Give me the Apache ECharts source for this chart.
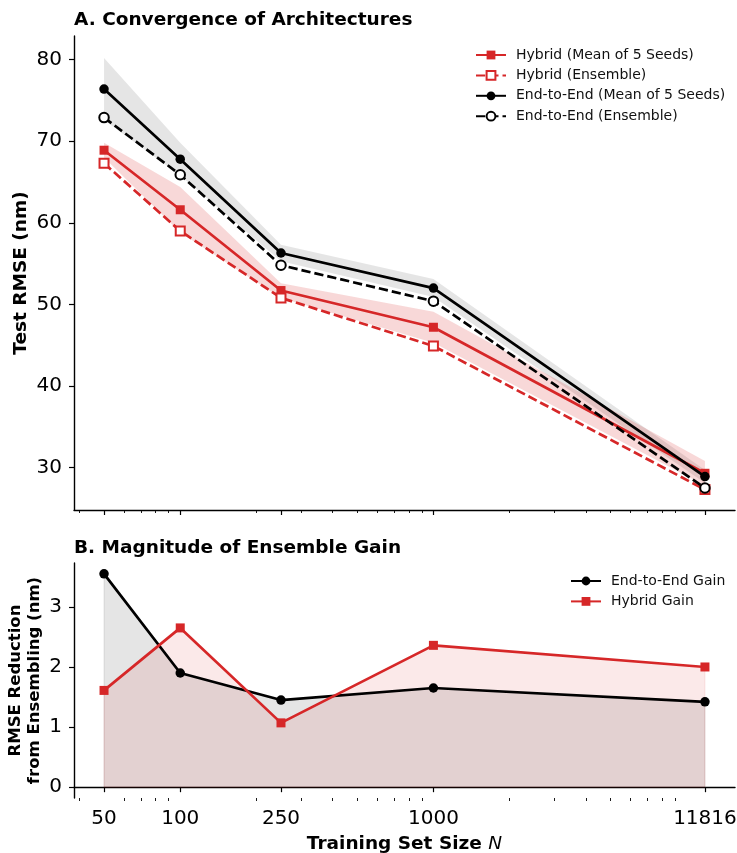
<!DOCTYPE html>
<html>
<head>
<meta charset="utf-8">
<script src="https://cdn.jsdelivr.net/npm/echarts@6/dist/echarts.min.js"></script>
<style>
  html, body { margin: 0; padding: 0; background: #fff; }
  #chart { width: 737px; height: 853px; }
</style>
</head>
<body>
<div id="chart"></div>
<script>
// Training set sizes (log-scaled x axis) and their tick labels
const trainSizes = [50, 100, 250, 1000, 11816];
const sizeTickLabels = ['50', '100', '250', '1000', '11816'];
const minorSizeTicks = [40, 60, 70, 80, 90, 200, 300, 400, 500, 600, 700, 800, 900,
  2000, 3000, 4000, 5000, 6000, 7000, 8000, 9000];

// Panel A: test RMSE (nm)
const hybridMean = [68.9, 61.6, 51.7, 47.2, 29.3];
const hybridStd = [0.9, 2.8, 0.9, 1.9, 1.5];
const hybridEnsemble = [67.3, 59.0, 50.8, 44.9, 27.3];
const e2eMean = [76.4, 67.8, 56.3, 52.0, 28.9];
const e2eStd = [3.8, 2.0, 1.0, 1.1, 0.8];
const e2eEnsemble = [72.9, 65.9, 54.8, 50.4, 27.5];
const rmseTicks = [30, 40, 50, 60, 70, 80];

// Panel B: RMSE reduction from ensembling (nm)
const e2eGain = [3.55, 1.90, 1.45, 1.65, 1.42];
const hybridGain = [1.61, 2.65, 1.07, 2.36, 2.00];
const gainTicks = [0, 1, 2, 3];

const RED = '#d62728';
const BLACK = '#000000';
const FONT = 'DejaVu Sans';
const DASH = [9.25, 4];

const pairs = (ys) => ys.map((y, i) => [trainSizes[i], y]);
const bandRows = (m, s) => m.map((v, i) => [trainSizes[i], v - s[i], v + s[i]]);
const fillRows = (ys) => ys.map((y, i) => [trainSizes[i], 0, y]);

function sizeLabel(v) {
  let best = 0;
  trainSizes.forEach((s, i) => {
    if (Math.abs(Math.log(s) - Math.log(v)) < Math.abs(Math.log(trainSizes[best]) - Math.log(v))) best = i;
  });
  return sizeTickLabels[best];
}

// Shaded region between a lower and an upper bound, drawn as one polygon
function bandRenderer(color, opacity, edgeWidth) {
  return function (params, api) {
    if (params.dataIndexInside !== 0) return null;
    const n = params.dataInsideLength;
    const top = [], bottom = [];
    for (let j = 0; j < n; j++) {
      const x = api.value(0, j);
      top.push(api.coord([x, api.value(2, j)]));
      bottom.push(api.coord([x, api.value(1, j)]));
    }
    return {
      type: 'polygon',
      shape: { points: top.concat(bottom.reverse()) },
      style: {
        fill: color, opacity: opacity,
        stroke: edgeWidth ? color : null, lineWidth: edgeWidth || 0
      },
      silent: true
    };
  };
}

const X_MIN = 38.05, X_MAX = 15530;

function majorX(gridIndex, withLabels, extra) {
  return Object.assign({
    type: 'log', gridIndex, min: X_MIN, max: X_MAX, position: 'bottom',
    axisLine: { show: true, lineStyle: { color: BLACK, width: 1.4 } },
    axisTick: { show: true, length: 5, lineStyle: { color: BLACK, width: 1.2 }, customValues: trainSizes },
    axisLabel: withLabels ? {
      show: true, customValues: trainSizes, formatter: sizeLabel,
      color: BLACK, fontFamily: FONT, fontSize: 20, margin: 11
    } : { show: false },
    splitLine: { show: false }, minorTick: { show: false }
  }, extra || {});
}
function minorX(gridIndex) {
  return {
    type: 'log', gridIndex, min: X_MIN, max: X_MAX, position: 'bottom',
    axisLine: { show: false },
    axisTick: { show: true, length: 3, lineStyle: { color: BLACK, width: 0.9 }, customValues: minorSizeTicks },
    axisLabel: { show: false },
    splitLine: { show: false }
  };
}

const legendText = { fontFamily: FONT, fontSize: 14, color: '#111', padding: [0, 0, 0, 5] };

const option = {
  backgroundColor: '#fff',
  animation: false,
  textStyle: { fontFamily: FONT },
  title: [
    { text: 'A. Convergence of Architectures', left: 69, top: 6,
      textStyle: { fontFamily: FONT, fontWeight: 'bold', fontSize: 18.5, color: BLACK } },
    { text: 'B. Magnitude of Ensemble Gain', left: 69, top: 534,
      textStyle: { fontFamily: FONT, fontWeight: 'bold', fontSize: 18.5, color: BLACK } }
  ],
  grid: [
    { left: 74, right: 2, top: 36, height: 474, outerBoundsMode: 'none', containLabel: false },
    { left: 74, right: 2, top: 563, height: 235, outerBoundsMode: 'none', containLabel: false }
  ],
  legend: [
    {
      orient: 'vertical', left: 470, top: 43, itemWidth: 30, itemHeight: 11, itemGap: 6.4,
      textStyle: legendText,
      data: ['Hybrid (Mean of 5 Seeds)', 'Hybrid (Ensemble)',
        'End-to-End (Mean of 5 Seeds)', 'End-to-End (Ensemble)']
    },
    {
      orient: 'vertical', left: 565, top: 569, itemWidth: 30, itemHeight: 11, itemGap: 6.4,
      textStyle: legendText,
      data: ['End-to-End Gain', 'Hybrid Gain']
    }
  ],
  xAxis: [
    majorX(0, false),
    minorX(0),
    majorX(1, true, {
      name: '{b|Training Set Size }{i|N}', nameLocation: 'middle', nameGap: 37,
      nameMoveOverlap: false,
      nameTextStyle: {
        rich: {
          b: { fontFamily: FONT, fontWeight: 'bold', fontSize: 18.5, color: BLACK },
          i: { fontFamily: FONT, fontStyle: 'italic', fontWeight: 'normal', fontSize: 18.5, color: BLACK }
        }
      }
    }),
    minorX(1)
  ],
  yAxis: [
    {
      type: 'value', gridIndex: 0, min: 24.8, max: 82.9,
      name: 'Test RMSE (nm)', nameLocation: 'middle', nameRotate: 90, nameGap: 43,
      nameMoveOverlap: false,
      nameTextStyle: { fontFamily: FONT, fontWeight: 'bold', fontSize: 18.5, color: BLACK },
      axisLine: { show: true, lineStyle: { color: BLACK, width: 1.4 } },
      axisTick: { show: true, length: 5, lineStyle: { color: BLACK, width: 1.2 }, customValues: rmseTicks },
      axisLabel: { customValues: rmseTicks, color: BLACK, fontFamily: FONT, fontSize: 20, margin: 12 },
      splitLine: { show: false }
    },
    {
      type: 'value', gridIndex: 1, min: -0.18, max: 3.73,
      name: 'RMSE Reduction\nfrom Ensembling (nm)', nameLocation: 'middle', nameRotate: 90, nameGap: 29.5,
      nameMoveOverlap: false,
      nameTextStyle: { fontFamily: FONT, fontWeight: 'bold', fontSize: 16.5, color: BLACK, lineHeight: 19 },
      axisLine: { show: true, lineStyle: { color: BLACK, width: 1.4 } },
      axisTick: { show: true, length: 5, lineStyle: { color: BLACK, width: 1.2 }, customValues: gainTicks },
      axisLabel: { customValues: gainTicks, color: BLACK, fontFamily: FONT, fontSize: 20, margin: 12 },
      splitLine: { show: false }
    }
  ],
  series: [
    // Panel A: spread bands (mean ± std across seeds)
    { name: 'e2eBand', type: 'custom', xAxisIndex: 0, yAxisIndex: 0, silent: true, z: 1,
      data: bandRows(e2eMean, e2eStd), encode: { x: 0, y: [1, 2] },
      renderItem: bandRenderer(BLACK, 0.1, 0) },
    { name: 'hybridBand', type: 'custom', xAxisIndex: 0, yAxisIndex: 0, silent: true, z: 1,
      data: bandRows(hybridMean, hybridStd), encode: { x: 0, y: [1, 2] },
      renderItem: bandRenderer(RED, 0.18, 0) },

    // Panel A: curves
    { name: 'Hybrid (Mean of 5 Seeds)', type: 'line', xAxisIndex: 0, yAxisIndex: 0,
      data: pairs(hybridMean), symbol: 'rect', symbolSize: 9, showAllSymbol: true,
      lineStyle: { color: RED, width: 2.7 }, itemStyle: { color: RED }, z: 3 },
    { name: 'Hybrid (Ensemble)', type: 'line', xAxisIndex: 0, yAxisIndex: 0,
      data: pairs(hybridEnsemble), symbol: 'emptyRect', symbolSize: 9, showAllSymbol: true,
      lineStyle: { color: RED, width: 2.7, type: DASH },
      itemStyle: { color: RED, borderWidth: 1.5 }, z: 3 },
    { name: 'End-to-End (Mean of 5 Seeds)', type: 'line', xAxisIndex: 0, yAxisIndex: 0,
      data: pairs(e2eMean), symbol: 'circle', symbolSize: 9.5, showAllSymbol: true,
      lineStyle: { color: BLACK, width: 2.7 }, itemStyle: { color: BLACK }, z: 4 },
    { name: 'End-to-End (Ensemble)', type: 'line', xAxisIndex: 0, yAxisIndex: 0,
      data: pairs(e2eEnsemble), symbol: 'emptyCircle', symbolSize: 9.5, showAllSymbol: true,
      lineStyle: { color: BLACK, width: 2.7, type: DASH },
      itemStyle: { color: BLACK, borderWidth: 1.5 }, z: 4 },

    // Panel B: shaded areas under each gain curve
    { name: 'e2eGainFill', type: 'custom', xAxisIndex: 2, yAxisIndex: 1, silent: true, z: 1,
      data: fillRows(e2eGain), encode: { x: 0, y: [1, 2] },
      renderItem: bandRenderer(BLACK, 0.1, 1) },
    { name: 'hybridGainFill', type: 'custom', xAxisIndex: 2, yAxisIndex: 1, silent: true, z: 1,
      data: fillRows(hybridGain), encode: { x: 0, y: [1, 2] },
      renderItem: bandRenderer(RED, 0.1, 1) },

    // Panel B: ensembling gain curves
    { name: 'End-to-End Gain', type: 'line', xAxisIndex: 2, yAxisIndex: 1,
      data: pairs(e2eGain), symbol: 'circle', symbolSize: 9.5, showAllSymbol: true,
      lineStyle: { color: BLACK, width: 2.7 }, itemStyle: { color: BLACK }, z: 3 },
    { name: 'Hybrid Gain', type: 'line', xAxisIndex: 2, yAxisIndex: 1,
      data: pairs(hybridGain), symbol: 'rect', symbolSize: 9, showAllSymbol: true,
      lineStyle: { color: RED, width: 2.7 }, itemStyle: { color: RED }, z: 4 }
  ]
};

const chart = echarts.init(document.getElementById('chart'), null, { renderer: 'canvas' });
chart.setOption(option);
</script>
</body>
</html>
